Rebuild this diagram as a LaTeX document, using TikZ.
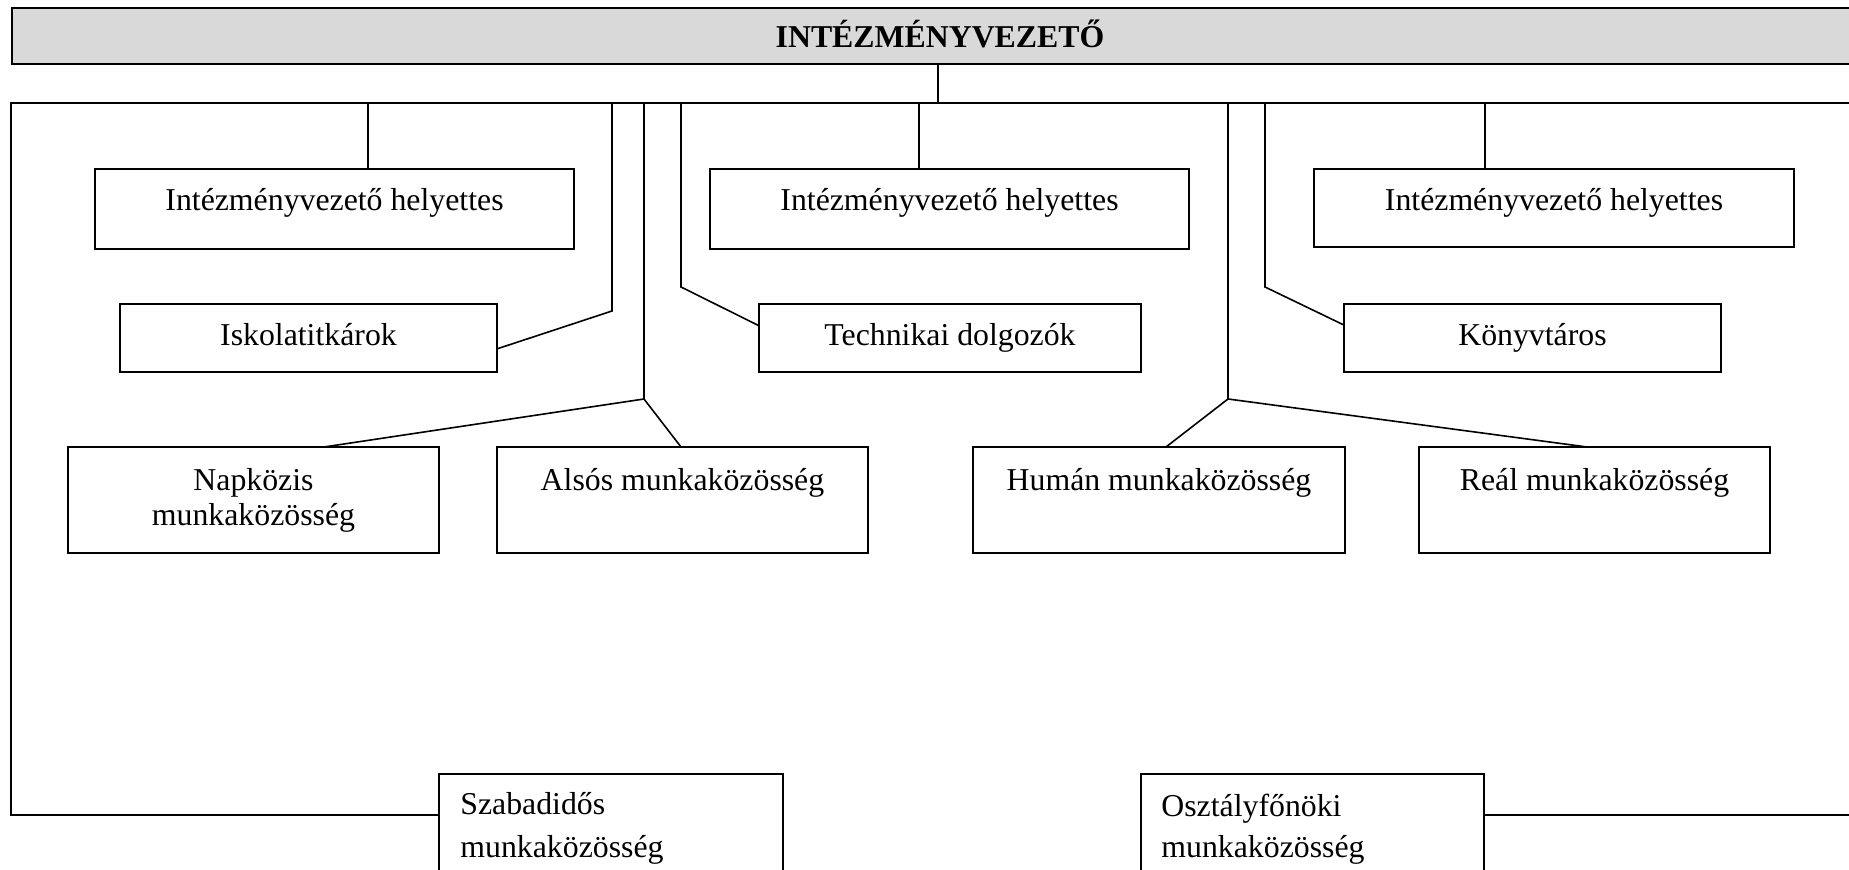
\documentclass[tikz,border=0pt]{standalone}
\usepackage{fontspec}
\setmainfont{Liberation Serif}
\usetikzlibrary{calc}
\definecolor{headgray}{HTML}{D9D9D9}
\begin{document}
\begin{tikzpicture}[x=0.5pt,y=-0.5pt,
  bx/.style 2 args={draw, line width=0.9pt, anchor=north west, inner sep=0pt, outer sep=0pt,
    minimum width=#1*0.5pt, minimum height=#2*0.5pt},
  txt/.style={anchor=base, inner sep=0pt, font=\fontsize{15.9pt}{17pt}\selectfont},
  ltxt/.style={txt, anchor=base west},
  ln/.style={line width=0.8pt},
]
\clip (0,0) rectangle (1849,870);
% header
\node[bx={1860}{56}, fill=headgray] (head) at (12,8) {};
\node[txt, font=\bfseries\fontsize{15.9pt}{17pt}\selectfont] (headt) at (940,48) {INTÉZMÉNYVEZETŐ};
% boxes
\node[bx={479}{80}] (ih1) at (95,169) {};
\node[bx={479}{80}] (ih2) at (710,169) {};
\node[bx={480}{78}] (ih3) at (1314,169) {};
\node[bx={377}{68}] (isk) at (120,304) {};
\node[bx={382}{68}] (tech) at (759,304) {};
\node[bx={377}{68}] (konyv) at (1344,304) {};
\node[bx={371}{106}] (napk) at (68,447) {};
\node[bx={371}{106}] (also) at (497,447) {};
\node[bx={372}{106}] (human) at (973,447) {};
\node[bx={351}{106}] (real) at (1419,447) {};
\node[bx={344}{150}] (szab) at (439,774) {};
\node[bx={343}{150}] (oszt) at (1141,774) {};
% texts
\node[txt] (ih1t) at (334.5,211) {Intézményvezető helyettes};
\node[txt] (ih2t) at (949.5,211) {Intézményvezető helyettes};
\node[txt] (ih3t) at (1554,211) {Intézményvezető helyettes};
\node[txt] (iskt) at (308.5,346) {Iskolatitkárok};
\node[txt] (techt) at (950,346) {Technikai dolgozók};
\node[txt] (konyvt) at (1532.5,346) {Könyvtáros};
\node[txt] (napkt1) at (253.5,491) {Napközis};
\node[txt] (napkt2) at (253.5,526) {munkaközösség};
\node[txt] (alsot) at (682.5,491) {Alsós munkaközösség};
\node[txt] (humant) at (1159,491) {Humán munkaközösség};
\node[txt] (realt) at (1594.5,491) {Reál munkaközösség};
\node[ltxt] (szabt1) at (460,815) {Szabadidős};
\node[ltxt] (szabt2) at (460,858) {munkaközösség};
\node[ltxt] (osztt1) at (1161,817) {Osztályfőnöki};
\node[ltxt] (osztt2) at (1161,858) {munkaközösség};
% bus
\coordinate (busL) at (11,103);
\coordinate (busR) at (1860,103);
\coordinate (stem) at (938,103);
\coordinate (lb) at (11,815);
\coordinate (rb) at (1860,815);
\draw[ln] (stem |- head.south) -- (stem);
\draw[ln] (busR) -- (busL) -- (lb) -- (lb -| szab.west);
\draw[ln] (rb -| oszt.east) -- (rb);
% deputies
\coordinate (s1) at (368,103);
\coordinate (s2) at (919,103);
\coordinate (s3) at (1485,103);
\draw[ln] (s1) -- (ih1.north -| s1);
\draw[ln] (s2) -- (ih2.north -| s2);
\draw[ln] (s3) -- (ih3.north -| s3);
% side boxes
\coordinate (k1) at (612,103); \coordinate (k1b) at (612,311);
\draw[ln] (k1) -- (k1b) -- ($(isk.north east)!0.66!(isk.south east)$);
\coordinate (k2) at (681,103); \coordinate (k2b) at (681,287);
\draw[ln] (k2) -- (k2b) -- ($(tech.north west)!0.32!(tech.south west)$);
\coordinate (k3) at (1265,103); \coordinate (k3b) at (1265,287);
\draw[ln] (k3) -- (k3b) -- ($(konyv.north west)!0.31!(konyv.south west)$);
% work groups
\coordinate (g1) at (644,103); \coordinate (j1) at (644,399);
\coordinate (n1) at (324,447); \coordinate (a1) at (681,447);
\draw[ln] (g1) -- (j1) -- (napk.north -| n1);
\draw[ln] (j1) -- (also.north -| a1);
\coordinate (g2) at (1228,103); \coordinate (j2) at (1228,399);
\coordinate (h1) at (1166,447); \coordinate (r1) at (1587,447);
\draw[ln] (g2) -- (j2) -- (human.north -| h1);
\draw[ln] (j2) -- (real.north -| r1);
\end{tikzpicture}
\end{document}
